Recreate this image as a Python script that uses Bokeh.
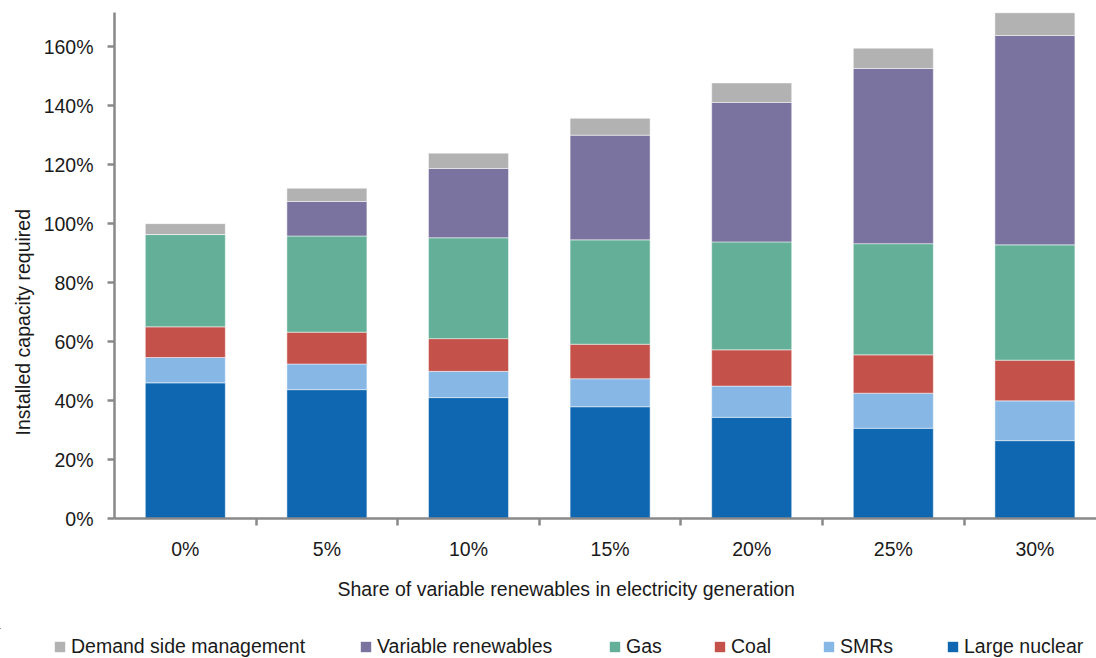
from bokeh.plotting import figure
from bokeh.layouts import column
from bokeh.models import (ColumnDataSource, Range1d, FixedTicker, Legend, LegendItem, Title)
from bokeh.embed import file_html
from bokeh.resources import INLINE

categories = ["0%", "5%", "10%", "15%", "20%", "25%", "30%"]
large_nuclear = [46.0, 43.7, 41.0, 37.9, 34.3, 30.6, 26.4]
smrs = [8.6, 8.7, 8.9, 9.5, 10.6, 11.9, 13.5]
coal = [10.4, 10.8, 11.1, 11.7, 12.3, 13.0, 13.8]
gas = [31.3, 32.6, 34.2, 35.4, 36.6, 37.7, 39.1]
variable_renewables = [0.0, 11.7, 23.5, 35.5, 47.3, 59.4, 71.0]
demand_side = [3.7, 4.5, 5.2, 5.7, 6.6, 6.9, 7.7]
y_ticks = [0, 20, 40, 60, 80, 100, 120, 140, 160]
y_tick_labels = ["0%", "20%", "40%", "60%", "80%", "100%", "120%", "140%", "160%"]
x_title = "Share of variable renewables in electricity generation"
y_title = "Installed capacity required"

series_names = ["Large nuclear", "SMRs", "Coal", "Gas", "Variable renewables", "Demand side management"]
series_keys = ["ln", "smr", "coal", "gas", "vre", "dsm"]
colors = ["#0E67B0", "#86B7E5", "#C4514A", "#63AF97", "#7A73A0", "#B2B2B2"]

FONT = "Liberation Sans"
FS = "19.5px"
AXC = "#898989"
TXT = "#1a1a1a"

xs = list(range(len(categories)))
source = ColumnDataSource(dict(x=xs, ln=large_nuclear, smr=smrs, coal=coal, gas=gas,
                               vre=variable_renewables, dsm=demand_side))

p = figure(width=1096, height=628, output_backend="svg", toolbar_location=None,
           x_range=Range1d(-0.5, 6.435), y_range=Range1d(0, 171.6),
           min_border_left=114, min_border_right=0, min_border_top=12, min_border_bottom=110)
p.outline_line_color = None
p.xgrid.visible = False
p.ygrid.visible = False

p.vbar_stack(series_keys, x="x", width=0.565, color=colors, source=source,
             line_color="white", line_alpha=0.6, line_width=0.8)

ya = p.yaxis[0]
ya.ticker = FixedTicker(ticks=y_ticks, minor_ticks=[])
ya.major_label_overrides = {t: l for t, l in zip(y_ticks, y_tick_labels)}
ya.axis_line_color = AXC
ya.axis_line_width = 2.5
ya.major_tick_line_color = AXC
ya.major_tick_line_width = 2.5
ya.major_tick_out = 7
ya.major_tick_in = 0
ya.minor_tick_line_color = None
ya.major_label_standoff = 14
ya.major_label_text_font = FONT
ya.major_label_text_font_size = FS
ya.major_label_text_color = TXT

xa = p.xaxis[0]
xa.ticker = FixedTicker(ticks=xs, minor_ticks=[i + 0.5 for i in xs[:-1]])
xa.major_label_overrides = {i: c for i, c in zip(xs, categories)}
xa.axis_line_color = AXC
xa.axis_line_width = 2.5
xa.major_tick_line_color = None
xa.major_tick_out = 0
xa.major_tick_in = 0
xa.minor_tick_line_color = AXC
xa.minor_tick_line_width = 2.5
xa.minor_tick_out = 7
xa.minor_tick_in = 0
xa.major_label_standoff = 12
xa.major_label_text_font = FONT
xa.major_label_text_font_size = FS
xa.major_label_text_color = TXT

p.add_layout(Title(text=x_title, align="left", offset=223, standoff=26,
                   text_font=FONT, text_font_size=FS, text_font_style="normal",
                   text_color=TXT), "below")
p.add_layout(Title(text=y_title, align="left", offset=83, standoff=14,
                   text_font=FONT, text_font_size=FS, text_font_style="normal",
                   text_color=TXT), "left")

# legend strip: same stacked series, kept out of view so only the legend shows
lg = figure(width=1096, height=30, output_backend="svg", toolbar_location=None,
            x_range=Range1d(1000, 1001), y_range=Range1d(-2000, -1999),
            x_axis_type=None, y_axis_type=None,
            min_border_left=0, min_border_right=0, min_border_top=0, min_border_bottom=0)
lg.frame_width = 1096
lg.frame_height = 30
for fig in (p, lg):
    try:
        fig.frame_align = False
    except AttributeError:
        pass
lg.outline_line_color = None
lg.xgrid.visible = False
lg.ygrid.visible = False
lg_renderers = lg.vbar_stack(series_keys, x="x", width=0.565, fill_color=colors,
                             line_color=None, source=source)

legend_x = [53, 359, 608, 713, 822, 946]
order = list(range(len(series_names)))[::-1]
for pos, i in zip(legend_x, order):
    leg = Legend(items=[LegendItem(label=series_names[i], renderers=[lg_renderers[i]])],
                 location=(pos, 0), glyph_width=13, glyph_height=13, label_standoff=5,
                 label_height=20, padding=0, margin=0, border_line_color=None,
                 background_fill_alpha=0, label_text_font=FONT, label_text_font_size=FS,
                 label_text_color=TXT)
    lg.add_layout(leg, "center")

layout = column(p, lg, spacing=0)
open("out.html", "w").write(file_html(layout, INLINE))
